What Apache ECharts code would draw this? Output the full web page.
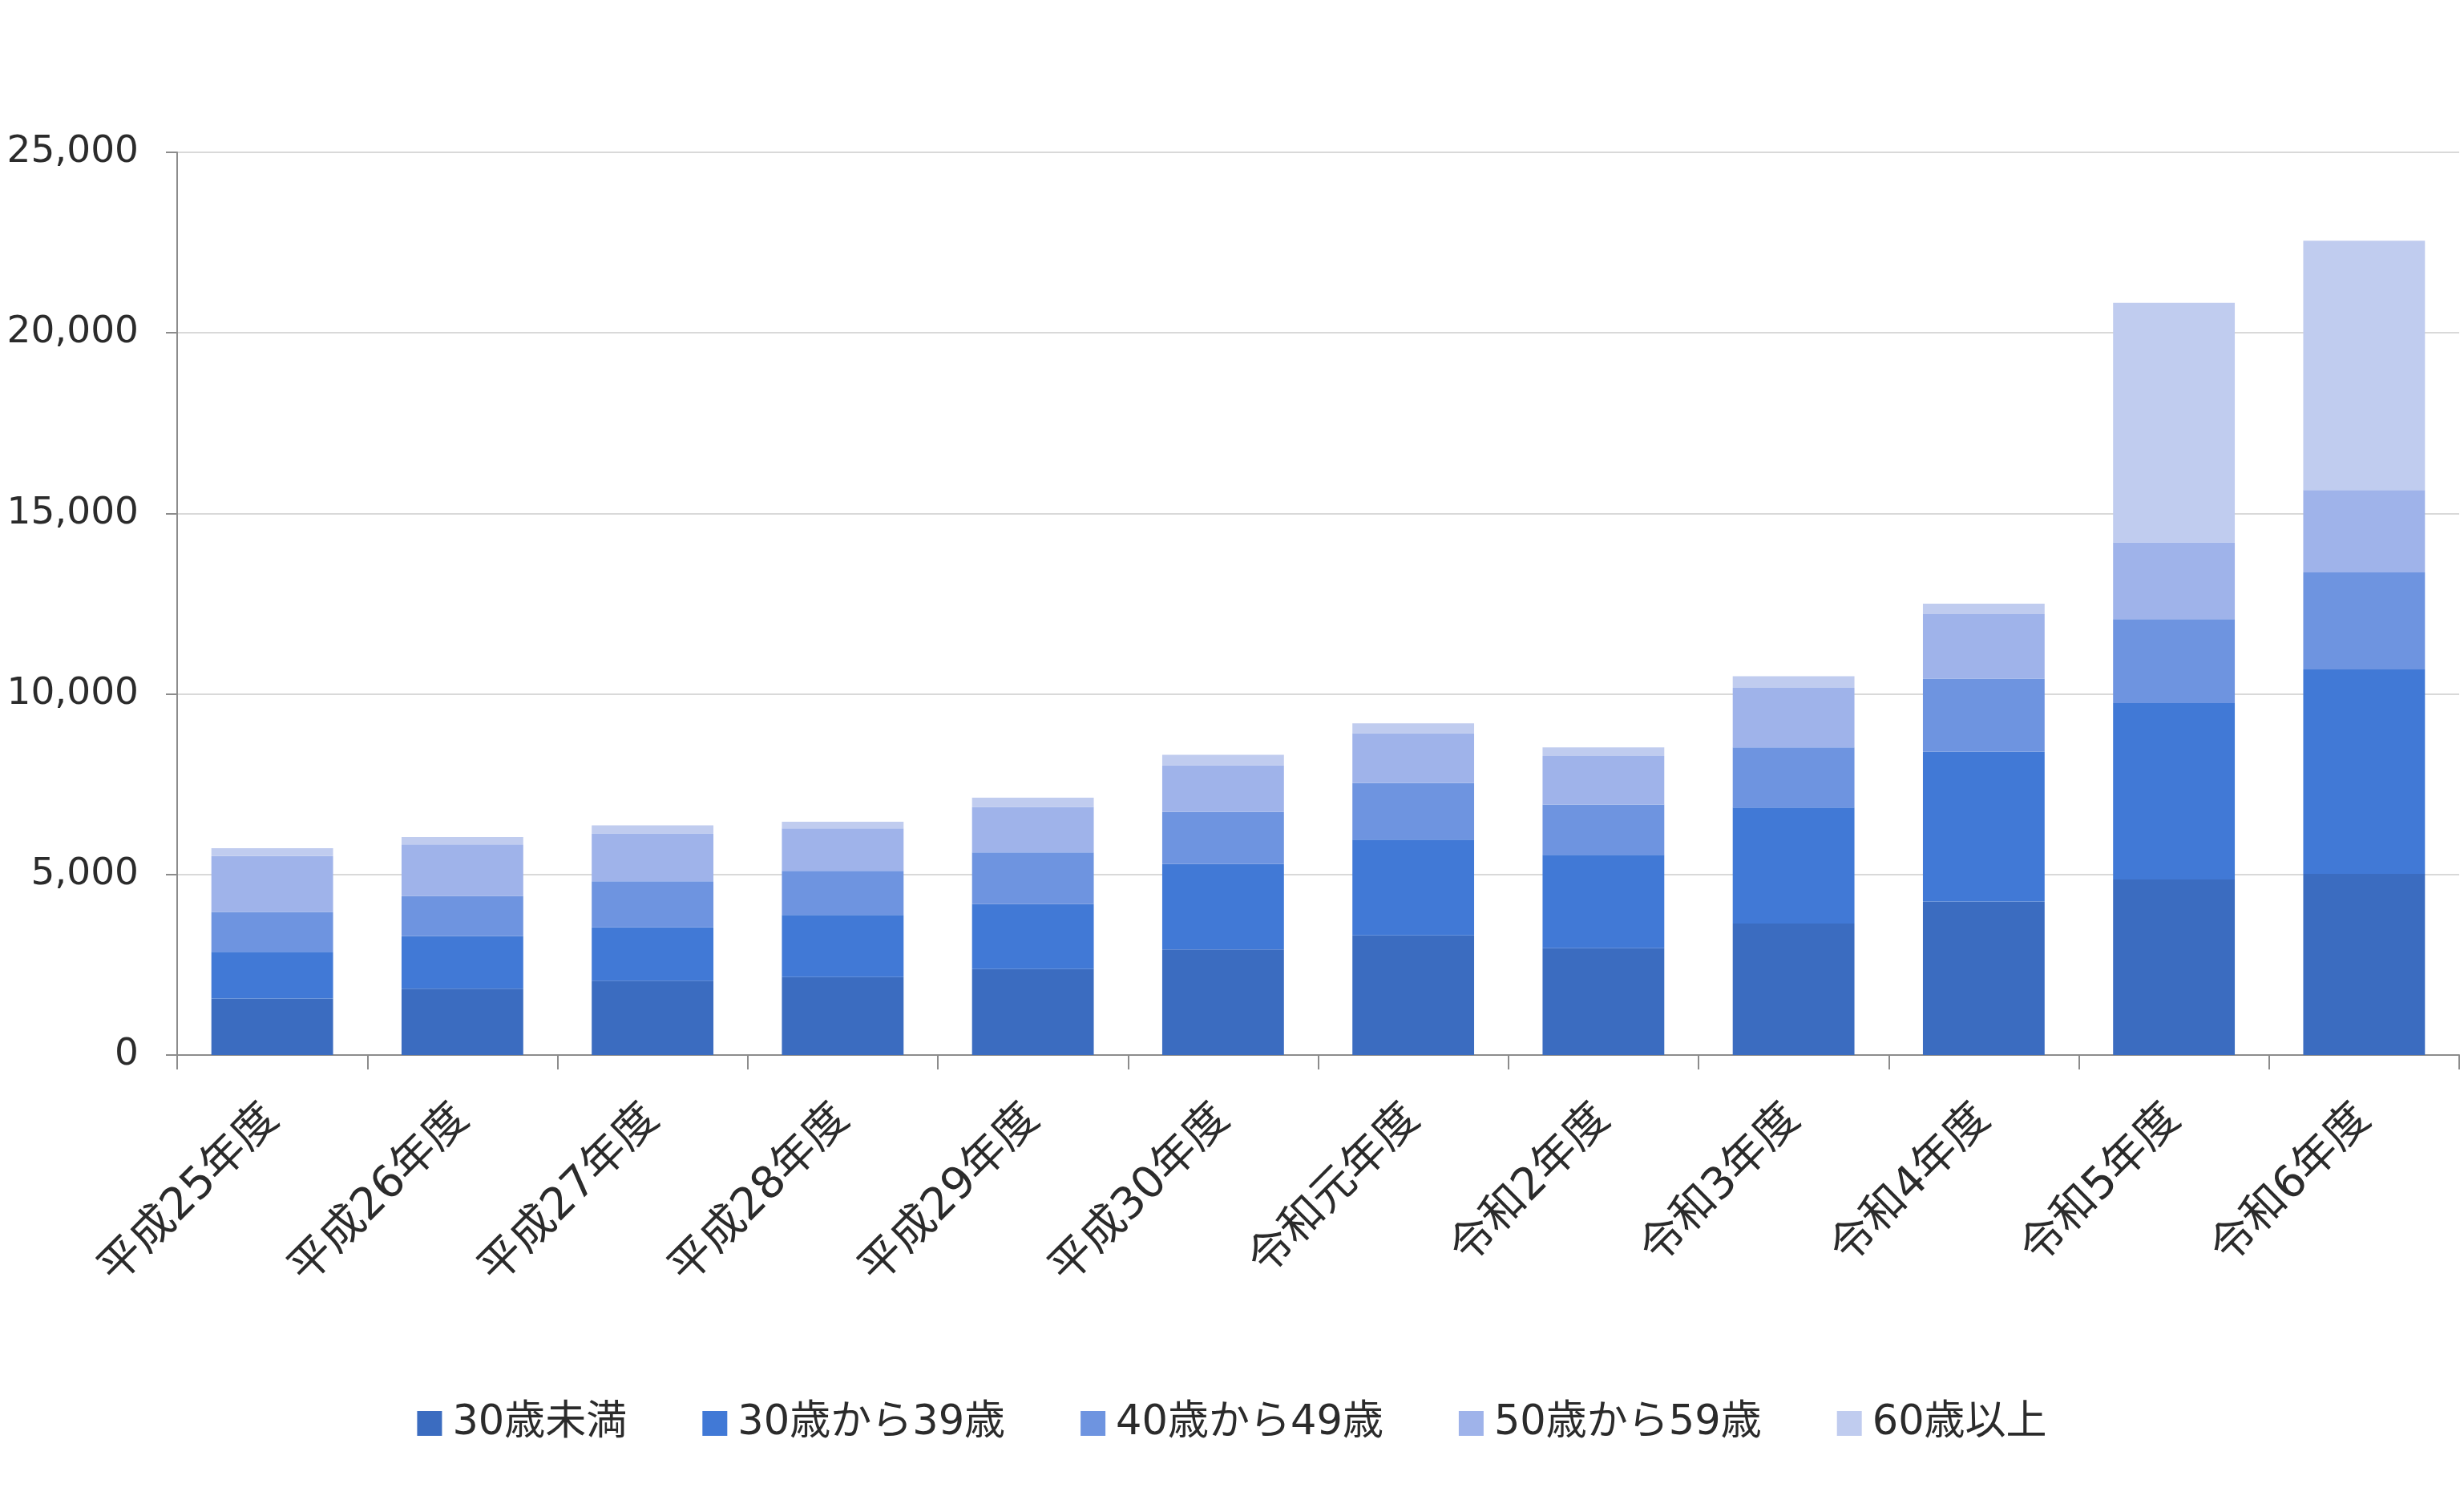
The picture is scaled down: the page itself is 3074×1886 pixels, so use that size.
<!DOCTYPE html>
<html>
<head>
<meta charset="utf-8">
<script src="https://cdn.jsdelivr.net/npm/echarts@6/dist/echarts.min.js"></script>
<style>
  html, body { margin: 0; padding: 0; background: #fff; }
  #chart { width: 3074px; height: 1886px; }
</style>
</head>
<body>
<div id="chart"></div>
<script>
// 年度
var years = ['平成25年度', '平成26年度', '平成27年度', '平成28年度', '平成29年度', '平成30年度',
             '令和元年度', '令和2年度', '令和3年度', '令和4年度', '令和5年度', '令和6年度'];

// 年齢層ごとの人数
var under30 = [1565, 1837, 2058, 2160, 2381, 2925, 3316, 2959, 3639, 4252, 4864, 5017];
var age30s  = [1292, 1462, 1479, 1718, 1803, 2364, 2653, 2585, 3215, 4149, 4881, 5663];
var age40s  = [1106, 1106, 1276, 1224, 1428, 1446, 1565, 1395, 1667, 2024, 2330, 2688];
var age50s  = [1547, 1428, 1327, 1174, 1259, 1292, 1378, 1343, 1649, 1786, 2126, 2278];
var over60  = [221, 204, 221, 187, 255, 289, 272, 238, 323, 289, 6633, 6905];

var names = ['30歳未満', '30歳から39歳', '40歳から49歳', '50歳から59歳', '60歳以上'];
var colors = ['#3b6cc0', '#4179d6', '#6e94e0', '#9fb3ea', '#c0ccef'];
var yTicks = { min: 0, max: 25000, interval: 5000 };

var font = '"DejaVu Sans", "Noto Sans CJK JP", sans-serif';
var textColor = '#2b2b2b';

var myChart = echarts.init(document.getElementById('chart'));

var series = [under30, age30s, age40s, age50s, over60].map(function (d, i) {
    return {
        name: names[i],
        type: 'bar',
        stack: 'total',
        barWidth: '64%',
        itemStyle: { color: colors[i] },
        data: d
    };
});

var option = {
    animation: false,
    color: colors,
    textStyle: { fontFamily: font },
    grid: { left: 221, right: 6, top: 190, bottom: 570, containLabel: false },
    legend: {
        data: names,
        bottom: 80,
        left: 'center',
        itemWidth: 31,
        itemHeight: 31,
        itemGap: 94,
        icon: 'rect',
        textStyle: { fontSize: 51, color: textColor, fontFamily: font, padding: [0, 0, 0, 8] }
    },
    xAxis: {
        type: 'category',
        data: years,
        axisLine: { lineStyle: { color: '#8c8c8c', width: 2 } },
        axisTick: { show: true, length: 18, lineStyle: { color: '#8c8c8c', width: 2 } },
        axisLabel: {
            rotate: 45,
            margin: 72,
            fontSize: 55,
            color: textColor,
            fontFamily: font
        }
    },
    yAxis: {
        type: 'value',
        min: yTicks.min,
        max: yTicks.max,
        interval: yTicks.interval,
        axisLine: { show: true, lineStyle: { color: '#8c8c8c', width: 2 } },
        axisTick: { show: true, length: 14, lineStyle: { color: '#8c8c8c', width: 2 } },
        splitLine: { lineStyle: { color: '#d9d9d9', width: 2 } },
        axisLabel: {
            fontSize: 47,
            color: textColor,
            margin: 48,
            fontFamily: font,
            formatter: function (v) { return v.toLocaleString('en-US'); }
        }
    },
    series: series
};

myChart.setOption(option);
</script>
</body>
</html>
